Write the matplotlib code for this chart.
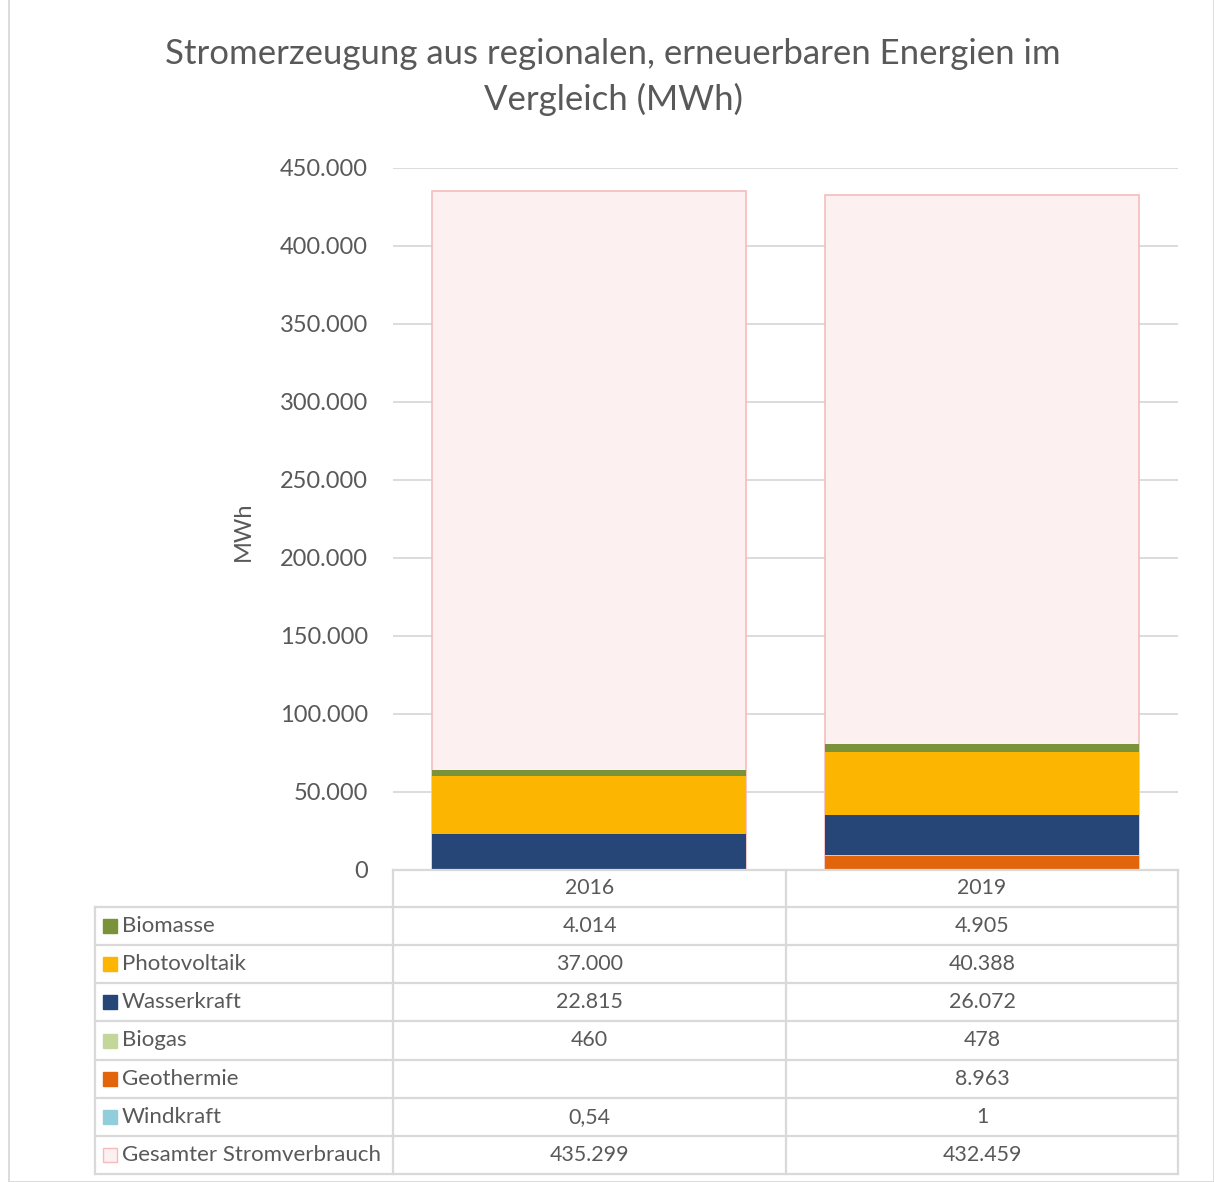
import numpy as np
import matplotlib.pyplot as plt
from matplotlib.lines import Line2D
from matplotlib.patches import Rectangle

plt.rcParams['font.family'] = ['Lato', 'DejaVu Sans']

years = ['2016', '2019']
# stack order bottom -> top
series = ['Windkraft', 'Geothermie', 'Biogas', 'Wasserkraft', 'Photovoltaik', 'Biomasse']
windkraft = [0.54, 1]
geothermie = [0, 8963]
biogas = [460, 478]
wasserkraft = [22815, 26072]
photovoltaik = [37000, 40388]
biomasse = [4014, 4905]
gesamt = [435299, 432459]

colors = {
    'Biomasse': '#7a9239',
    'Photovoltaik': '#fcb500',
    'Wasserkraft': '#254677',
    'Biogas': '#c4d79b',
    'Geothermie': '#e2650c',
    'Windkraft': '#92cddc',
}
values = {
    'Windkraft': windkraft, 'Geothermie': geothermie, 'Biogas': biogas,
    'Wasserkraft': wasserkraft, 'Photovoltaik': photovoltaik, 'Biomasse': biomasse,
}
# table text (as shown in the chart)
table_rows = ['Biomasse', 'Photovoltaik', 'Wasserkraft', 'Biogas', 'Geothermie', 'Windkraft',
              'Gesamter Stromverbrauch']
table_text = {
    'Biomasse': ['4.014', '4.905'],
    'Photovoltaik': ['37.000', '40.388'],
    'Wasserkraft': ['22.815', '26.072'],
    'Biogas': ['460', '478'],
    'Geothermie': ['', '8.963'],
    'Windkraft': ['0,54', '1'],
    'Gesamter Stromverbrauch': ['435.299', '432.459'],
}

W, H = 1214, 1182
fig = plt.figure(figsize=(W / 100, H / 100), dpi=100)
txt = '#595959'
grid = '#d9d9d9'

def fx(px):
    return px / W

def fy(py):
    return 1 - py / H

ax = fig.add_axes([fx(393), fy(870), fx(1178) - fx(393), fy(168) - fy(870)])
x = np.arange(len(years))
ax.bar(x, gesamt, width=0.8, color='#fcf0f0', edgecolor='#f4bcbc', linewidth=1.2, zorder=2)
bottom = np.zeros(len(years))
for s in series:
    v = np.array(values[s], dtype=float)
    ax.bar(x, v, width=0.8, bottom=bottom, color=colors[s], linewidth=0, zorder=3)
    bottom += v

ax.set_xlim(-0.5, 1.5)
ax.set_ylim(0, 450000)
ax.set_yticks(np.arange(0, 450001, 50000))
ax.set_yticklabels(['0'] + [f'{v:,}'.replace(',', '.') for v in range(50000, 450001, 50000)])
ax.tick_params(axis='y', length=0, labelsize=17, colors=txt, pad=18)
ax.set_xticks([])
ax.yaxis.grid(True, color=grid, linewidth=1.3, zorder=0)
ax.set_axisbelow(True)
for sp in ax.spines.values():
    sp.set_visible(False)

fig.text(fx(243), fy(531), 'MWh', rotation=90, ha='center', va='center', fontsize=17, color=txt)
fig.text(fx(613), fy(54), 'Stromerzeugung aus regionalen, erneuerbaren Energien im',
         ha='center', va='center', fontsize=25, color=txt)
fig.text(fx(613), fy(99), 'Vergleich (MWh)', ha='center', va='center', fontsize=25, color=txt)

# data table drawn under the axis
col_x = [95, 393, 786, 1178]
row_h = (1174 - 907) / 7
row_y = [870, 907] + [907 + row_h * (i + 1) for i in range(7)]
lw = 1.6

def hline(y, x0, x1):
    fig.add_artist(Line2D([fx(x0), fx(x1)], [fy(y), fy(y)], color=grid, lw=lw))

def vline(xp, y0, y1):
    fig.add_artist(Line2D([fx(xp), fx(xp)], [fy(y0), fy(y1)], color=grid, lw=lw))

hline(870, 393, 1178)
for y in row_y[1:]:
    hline(y, 95, 1178)
vline(95, 907, 1174)
for xp in col_x[1:]:
    vline(xp, 870, 1174)

for j, yr in enumerate(years):
    cx = (col_x[j + 1] + col_x[j + 2]) / 2
    fig.text(fx(cx), fy(888), yr, ha='center', va='center', fontsize=15.3, color=txt)

for i, name in enumerate(table_rows):
    cy = (row_y[i + 1] + row_y[i + 2]) / 2
    if name == 'Gesamter Stromverbrauch':
        fc, ec = '#fcf0f0', '#f4bcbc'
    else:
        fc, ec = colors[name], colors[name]
    fig.add_artist(Rectangle((fx(103), fy(cy + 7)), fx(14), fy(0) - fy(14),
                             facecolor=fc, edgecolor=ec, lw=1))
    fig.text(fx(122), fy(cy), name, ha='left', va='center', fontsize=16, color=txt)
    for j in range(len(years)):
        cx = (col_x[j + 1] + col_x[j + 2]) / 2
        fig.text(fx(cx), fy(cy), table_text[name][j], ha='center', va='center',
                 fontsize=15.4, color=txt)

# outer chart border
fig.add_artist(Rectangle((fx(9), fy(1182)), fx(1205), fy(9) - fy(1182) + 0.01,
                         facecolor='none', edgecolor=grid, lw=1.3))

plt.savefig('out.png', dpi=100, facecolor='white')
plt.close()
